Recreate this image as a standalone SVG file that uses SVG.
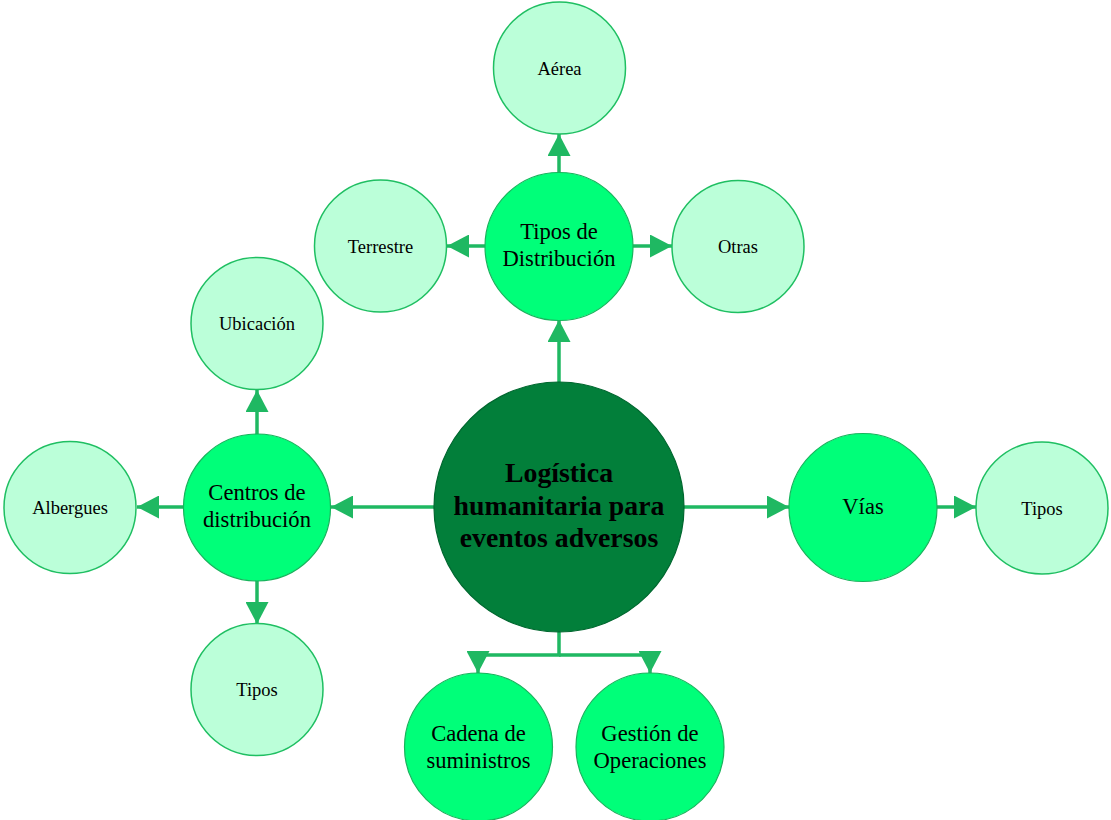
<svg xmlns="http://www.w3.org/2000/svg" width="1111" height="820" viewBox="0 0 1111 820">
  <style>
    .root { fill: #027f3a; stroke: #01672f; stroke-width: 1.2; }
    .main { fill: #00ff79; stroke: #17b45c; stroke-width: 1.2; }
    .leaf { fill: #bbffd9; stroke: #1fbf62; stroke-width: 1.5; }
    .link { fill: none; stroke: #1fb862; stroke-width: 3.5; }
    text { font-family: "Liberation Serif", "Times New Roman", serif; fill: #000; text-anchor: middle; }
    .t-root { font-size: 27.8px; font-weight: bold; }
    .t-main { font-size: 22.6px; }
    .t-leaf { font-size: 18.5px; }
  </style>
  <defs>
    <marker id="arrow" viewBox="0 0 22 23" refX="22" refY="11.5" markerWidth="22" markerHeight="23" orient="auto" markerUnits="userSpaceOnUse">
      <path d="M0,0 L22,11.5 L0,23 Z" fill="#1fb862"/>
    </marker>
  </defs>

  <g id="connectors">
    <path class="link" d="M559,382 L559,320" marker-end="url(#arrow)"/>
    <path class="link" d="M559,173 L559,134" marker-end="url(#arrow)"/>
    <path class="link" d="M485,246 L447,246" marker-end="url(#arrow)"/>
    <path class="link" d="M633,246 L672,246" marker-end="url(#arrow)"/>
    <path class="link" d="M434,507 L331,507" marker-end="url(#arrow)"/>
    <path class="link" d="M183,507 L137,507" marker-end="url(#arrow)"/>
    <path class="link" d="M257,434 L257,390" marker-end="url(#arrow)"/>
    <path class="link" d="M257,580 L257,624" marker-end="url(#arrow)"/>
    <path class="link" d="M684,507 L789,507" marker-end="url(#arrow)"/>
    <path class="link" d="M937,507 L976,507" marker-end="url(#arrow)"/>
    <path class="link" d="M559,632 L559,655 L478,655 L478,673" marker-end="url(#arrow)"/>
    <path class="link" d="M559,655 L650,655 L650,673" marker-end="url(#arrow)"/>
  </g>

  <g id="node-logistica">
    <circle class="root" cx="559" cy="507" r="125"/>
    <text class="t-root" x="559" y="482">Logística</text>
    <text class="t-root" x="559" y="515">humanitaria para</text>
    <text class="t-root" x="559" y="547">eventos adversos</text>
  </g>

  <g id="node-tipos-distribucion">
    <circle class="main" cx="559" cy="246.5" r="74"/>
    <text class="t-main" x="559" y="239">Tipos de</text>
    <text class="t-main" x="559" y="266">Distribución</text>
  </g>
  <g id="node-aerea">
    <circle class="leaf" cx="559.5" cy="68" r="66"/>
    <text class="t-leaf" x="559.5" y="74.5">Aérea</text>
  </g>
  <g id="node-terrestre">
    <circle class="leaf" cx="380.5" cy="246" r="66"/>
    <text class="t-leaf" x="380.5" y="252.5">Terrestre</text>
  </g>
  <g id="node-otras">
    <circle class="leaf" cx="738" cy="246.5" r="66"/>
    <text class="t-leaf" x="738" y="253">Otras</text>
  </g>

  <g id="node-centros">
    <circle class="main" cx="257" cy="507.5" r="73.5"/>
    <text class="t-main" x="257" y="500">Centros de</text>
    <text class="t-main" x="257" y="527">distribución</text>
  </g>
  <g id="node-ubicacion">
    <circle class="leaf" cx="257" cy="323.5" r="66"/>
    <text class="t-leaf" x="257" y="330">Ubicación</text>
  </g>
  <g id="node-albergues">
    <circle class="leaf" cx="70" cy="507.5" r="66"/>
    <text class="t-leaf" x="70" y="514">Albergues</text>
  </g>
  <g id="node-tipos-centros">
    <circle class="leaf" cx="257" cy="689.5" r="66"/>
    <text class="t-leaf" x="257" y="696">Tipos</text>
  </g>

  <g id="node-vias">
    <circle class="main" cx="863" cy="507.5" r="74"/>
    <text class="t-main" x="863" y="514">Vías</text>
  </g>
  <g id="node-tipos-vias">
    <circle class="leaf" cx="1042" cy="508" r="66"/>
    <text class="t-leaf" x="1042" y="514.5">Tipos</text>
  </g>

  <g id="node-cadena">
    <circle class="main" cx="478.5" cy="747" r="74"/>
    <text class="t-main" x="478.5" y="741">Cadena de</text>
    <text class="t-main" x="478.5" y="768">suministros</text>
  </g>
  <g id="node-gestion">
    <circle class="main" cx="650" cy="747" r="74"/>
    <text class="t-main" x="650" y="741">Gestión de</text>
    <text class="t-main" x="650" y="768">Operaciones</text>
  </g>
</svg>
